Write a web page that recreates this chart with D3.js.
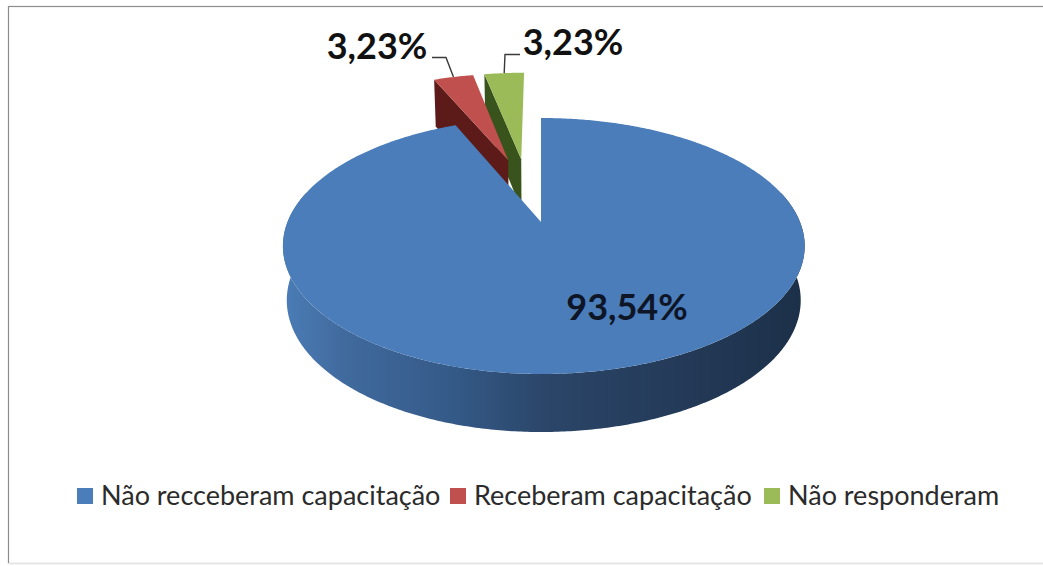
<!DOCTYPE html>
<html lang="pt">
<head>
<meta charset="utf-8">
<script src="https://cdn.jsdelivr.net/npm/d3@7"></script>
<style>
html,body{margin:0;padding:0;background:#fff;}
svg{display:block;}
text{font-family:Lato,"Open Sans",sans-serif;}
</style>
</head>
<body>
<svg id="chart" width="1043" height="566"></svg>
<script>
// Chart values
const categories = ["Não recceberam capacitação", "Receberam capacitação", "Não responderam"];
const shares = [93.54, 3.23, 3.23];
const shareLabels = ["93,54%", "3,23%", "3,23%"];
const topColors = ["#4a7db9", "#c0504d", "#9bbb59"];
const wallColors = ["#2b4669", "#5c1a18", "#39531c"];

const svg = d3.select("#chart");
const tau = Math.PI * 2;

// Perspective camera: the disc plane (unit radius) is mapped on screen with a
// projective transform, so far points shrink and the rim becomes an off-centre ellipse.
const cam = {x0: 541, y0: 222, left: 253.5, right: 259, depthY: 123.5, persp: 0.1875,
             thickFront: 53.5, thickSlope: 4.5, bottomShrink: 0.985};
const explode = 0.285;

function project(xd, yd, lower) {
  const w = 1 + cam.persp * yd;
  let X = (xd < 0 ? cam.left : cam.right) * xd / w;
  let Y = cam.y0 - cam.depthY * yd / w;
  if (lower) {
    X *= cam.bottomShrink;
    Y += cam.thickFront - cam.thickSlope * yd;
  }
  return [cam.x0 + X, Y];
}

const arcs = d3.pie().sort(null).value(d => d)(shares);
const mids = arcs.map(a => (a.startAngle + a.endAngle) / 2);

// Each slice is pushed out along its mid angle; the large slice's apex is the origin.
function offset(i) {
  return [
    explode * (Math.sin(mids[i]) - Math.sin(mids[0])),
    explode * (Math.cos(mids[i]) - Math.cos(mids[0]))
  ];
}
function rimPoint(i, angle, lower) {
  const [ox, oy] = offset(i);
  return project(ox + Math.sin(angle), oy + Math.cos(angle), lower);
}
function apexPoint(i, lower) {
  const [ox, oy] = offset(i);
  return project(ox, oy, lower);
}
function sampleAngles(a0, a1) {
  const n = Math.max(4, Math.ceil(Math.abs(a1 - a0) / 0.01));
  return d3.range(n + 1).map(k => a0 + (a1 - a0) * k / n);
}
const line = d3.line();

// Panel frame
svg.append("rect").attr("x", 8.5).attr("y", 6.5).attr("width", 1040).attr("height", 557)
  .attr("fill", "#fff").attr("stroke", "#8c8c8c").attr("stroke-width", 1.2);
svg.append("line").attr("x1", 8).attr("x2", 1043).attr("y1", 563.5).attr("y2", 563.5)
  .attr("stroke", "#e4e4e4");

// Horizontal shading along the large slice's outer wall
const sideStops = [[0, "#4a7bb4"], [0.12, "#40699c"], [0.32, "#345a88"], [0.5, "#2b4669"], [0.72, "#253c5b"], [1, "#1c3049"]];
const grad = svg.append("defs").append("linearGradient").attr("id", "wallShade")
  .attr("gradientUnits", "userSpaceOnUse")
  .attr("x1", project(-1, 0)[0]).attr("x2", project(1, 0)[0]).attr("y1", 0).attr("y2", 0);
sideStops.forEach(s => grad.append("stop").attr("offset", s[0]).attr("stop-color", s[1]));

// The two small slices sit behind the large one; the far one is drawn first.
[2, 1].forEach(i => {
  const a = arcs[i];
  const wall = [rimPoint(i, a.startAngle), apexPoint(i), apexPoint(i, true), rimPoint(i, a.startAngle, true)];
  svg.append("path").attr("d", line(wall) + "Z").attr("fill", wallColors[i]);
  const top = [apexPoint(i), ...sampleAngles(a.startAngle, a.endAngle).map(t => rimPoint(i, t))];
  svg.append("path").attr("d", line(top) + "Z").attr("fill", topColors[i]);
});

// Large slice: outer wall first, then its top face
{
  const a = arcs[0];
  const frontTop = sampleAngles(tau / 4 - 0.25, tau * 3 / 4 + 0.25).map(t => rimPoint(0, t));
  const frontBottom = sampleAngles(tau * 3 / 4 + 0.25, tau / 4 - 0.25).map(t => rimPoint(0, t, true));
  svg.append("path").attr("d", line([...frontTop, ...frontBottom]) + "Z").attr("fill", "url(#wallShade)");
  const top = [apexPoint(0), ...sampleAngles(a.startAngle, a.endAngle).map(t => rimPoint(0, t))];
  svg.append("path").attr("d", line(top) + "Z").attr("fill", topColors[0]);
}

// Value labels with leader lines for the small slices
const labelStyle = s => s.attr("font-size", 36).attr("font-weight", 700).attr("fill", "#111");
svg.append("text").attr("x", 627).attr("y", 320).attr("text-anchor", "middle")
  .text(shareLabels[0]).call(labelStyle).attr("fill", "#0d1526");
svg.append("text").attr("x", 377).attr("y", 59).attr("text-anchor", "middle").text(shareLabels[1]).call(labelStyle);
svg.append("text").attr("x", 573).attr("y", 55).attr("text-anchor", "middle").text(shareLabels[2]).call(labelStyle);

const redEnd = rimPoint(1, mids[1]);
const greenEnd = rimPoint(2, mids[2]);
svg.append("path").attr("fill", "none").attr("stroke", "#3a3a3a").attr("stroke-width", 1.4)
  .attr("d", line([[432, 57.5], [446, 57.5], redEnd]));
svg.append("path").attr("fill", "none").attr("stroke", "#3a3a3a").attr("stroke-width", 1.4)
  .attr("d", line([[520, 54.5], [505, 54.5], greenEnd]));

// Legend
const legendX = [77, 450, 764];
categories.forEach((c, i) => {
  svg.append("rect").attr("x", legendX[i]).attr("y", 488).attr("width", 16).attr("height", 16)
    .attr("fill", topColors[i]);
  svg.append("text").attr("x", legendX[i] + 24).attr("y", 505).attr("font-size", 27)
    .attr("fill", "#2b2b2b").text(c);
});
</script>
</body>
</html>
